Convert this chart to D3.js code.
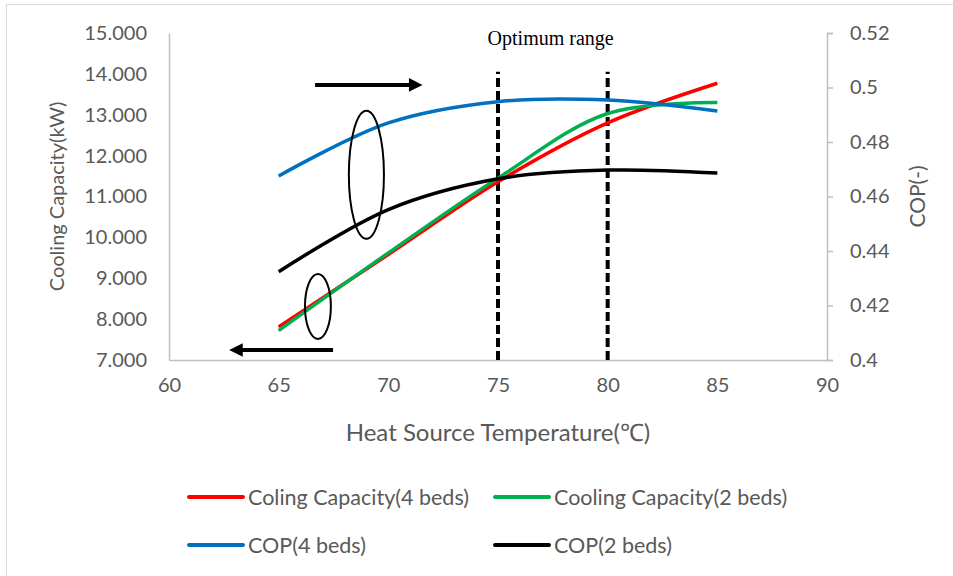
<!DOCTYPE html>
<html lang="en">
<head>
  <meta charset="UTF-8">
  <title>Cooling capacity and COP vs heat source temperature</title>
  <script src="https://d3js.org/d3.v7.min.js"></script>
  <style>
    body { margin: 0; background: #fff; }
    text { font-family: Lato, "Open Sans", sans-serif; fill: #595959; }
  </style>
</head>
<body>
  <svg id="chart" width="953" height="576"></svg>
  <script>
    // data
    const temps = [65, 70, 75, 80, 85];
    const capacity4 = [7.81, 9.58, 11.36, 12.80, 13.77];
    const capacity2 = [7.72, 9.62, 11.45, 13.03, 13.30];
    const cop4 = [0.4675, 0.4870, 0.4948, 0.4954, 0.4914];
    const cop2 = [0.4324, 0.4552, 0.4665, 0.4697, 0.4686];

    const xTicks = [60, 65, 70, 75, 80, 85, 90];
    const leftTicks = [7, 8, 9, 10, 11, 12, 13, 14, 15];
    const rightTicks = [0.40, 0.42, 0.44, 0.46, 0.48, 0.50, 0.52];
    const optimum = [75, 80];

    const series = [
      { name: "Coling Capacity(4 beds)", values: capacity4, axis: "left", color: "#ff0000" },
      { name: "Cooling Capacity(2 beds)", values: capacity2, axis: "left", color: "#00b050" },
      { name: "COP(4 beds)", values: cop4, axis: "right", color: "#0070c0" },
      { name: "COP(2 beds)", values: cop2, axis: "right", color: "#000000" }
    ];

    const svg = d3.select("#chart");
    const margin = { left: 169, right: 126, top: 33, bottom: 216 };
    const W = 953, H = 576;

    const x = d3.scaleLinear().domain([60, 90]).range([margin.left, W - margin.right]);
    const yL = d3.scaleLinear().domain([7, 15]).range([H - margin.bottom, margin.top]);
    const yR = d3.scaleLinear().domain([0.4, 0.52]).range([H - margin.bottom, margin.top]);

    // outer chart border
    svg.append("rect")
      .attr("x", 6.5).attr("y", 4.5)
      .attr("width", 960).attr("height", 600)
      .attr("fill", "none").attr("stroke", "#d9d9d9");

    const axisColor = "#bfbfbf";

    // x axis
    const gx = svg.append("g")
      .attr("transform", `translate(0,${yL(7)})`)
      .call(d3.axisBottom(x).tickValues(xTicks).tickSize(0).tickPadding(18));
    gx.select(".domain").attr("stroke", axisColor).attr("stroke-width", 1.5);
    gx.selectAll("text").style("font-size", "20px").attr("fill", "#595959");

    // left axis
    const gl = svg.append("g")
      .attr("transform", `translate(${x(60)},0)`)
      .call(d3.axisLeft(yL).tickValues(leftTicks).tickSize(0).tickPadding(22).tickFormat(d3.format(".3f")));
    gl.select(".domain").attr("stroke", axisColor).attr("stroke-width", 1.5);
    gl.selectAll("text").style("font-size", "20px").attr("fill", "#595959");

    // right axis
    const gr = svg.append("g")
      .attr("transform", `translate(${x(90)},0)`)
      .call(d3.axisRight(yR).tickValues(rightTicks).tickSize(6).tickPadding(17)
        .tickFormat(d => String(+d.toFixed(2))));
    gr.select(".domain").attr("stroke", axisColor).attr("stroke-width", 1.5);
    gr.selectAll(".tick line").attr("stroke", axisColor).attr("stroke-width", 1.5);
    gr.selectAll("text").style("font-size", "20px").attr("fill", "#595959");

    // axis titles
    svg.append("text")
      .attr("transform", `translate(57,${(yL(7) + yL(15)) / 2}) rotate(-90)`)
      .attr("text-anchor", "middle").attr("dy", "0.35em")
      .style("font-size", "20px")
      .text("Cooling Capacity(kW)");

    svg.append("text")
      .attr("transform", `translate(918,${(yL(7) + yL(15)) / 2}) rotate(-90)`)
      .attr("text-anchor", "middle").attr("dy", "0.35em")
      .style("font-size", "21px")
      .text("COP(-)");

    const xt = svg.append("text")
      .attr("x", (x(60) + x(90)) / 2).attr("y", 441)
      .attr("text-anchor", "middle")
      .style("font-size", "24px");
    xt.append("tspan").text("Heat Source Temperature(");
    xt.append("tspan").style("font-family", "'Liberation Serif', serif").text("\u2103");
    xt.append("tspan").text(")");

    // optimum range dashed lines
    svg.append("g").selectAll("line")
      .data(optimum)
      .join("line")
        .attr("x1", d => x(d)).attr("x2", d => x(d))
        .attr("y1", yL(7)).attr("y2", yL(14.05))
        .attr("stroke", "#000").attr("stroke-width", 4)
        .attr("stroke-dasharray", "9,4");

    svg.append("text")
      .attr("x", x(77.4)).attr("y", 45)
      .attr("text-anchor", "middle")
      .style("font-family", "'Liberation Serif', 'Times New Roman', serif")
      .style("font-size", "20px")
      .style("fill", "#000")
      .text("Optimum range");

    // series lines
    const line = (yScale) => d3.line()
      .x((d, i) => x(temps[i]))
      .y(d => yScale(d))
      .curve(d3.curveCatmullRom.alpha(0.5));

    svg.append("g").selectAll("path")
      .data(series)
      .join("path")
        .attr("fill", "none")
        .attr("stroke", d => d.color)
        .attr("stroke-width", 3.5)
        .attr("d", d => line(d.axis === "left" ? yL : yR)(d.values));

    // annotations (positioned in data units)
    const ellipses = [
      { cx: 69.0, cy: 11.53, rx: 0.8, ry: 1.566 },
      { cx: 66.79, cy: 8.31, rx: 0.59, ry: 0.795 }
    ];
    svg.append("g").selectAll("ellipse")
      .data(ellipses)
      .join("ellipse")
        .attr("cx", d => x(d.cx)).attr("cy", d => yL(d.cy))
        .attr("rx", d => x(60 + d.rx) - x(60))
        .attr("ry", d => yL(7) - yL(7 + d.ry))
        .attr("fill", "none").attr("stroke", "#000").attr("stroke-width", 2);

    svg.append("defs").append("marker")
      .attr("id", "head")
      .attr("viewBox", "0 0 10 10")
      .attr("refX", 1).attr("refY", 5)
      .attr("markerWidth", 3.8).attr("markerHeight", 3.4)
      .attr("markerUnits", "strokeWidth")
      .attr("orient", "auto")
      .append("path").attr("d", "M0,0 L10,5 L0,10 Z").attr("fill", "#000");

    const arrows = [
      { x1: 66.66, x2: 71.0, y: 13.73 },
      { x1: 67.48, x2: 63.3, y: 7.245 }
    ];
    svg.append("g").selectAll("line")
      .data(arrows)
      .join("line")
        .attr("x1", d => x(d.x1)).attr("x2", d => x(d.x2))
        .attr("y1", d => yL(d.y)).attr("y2", d => yL(d.y))
        .attr("stroke", "#000").attr("stroke-width", 4)
        .attr("marker-end", "url(#head)");

    // legend
    const legendPos = [
      { x: 189, y: 497 }, { x: 495, y: 497 },
      { x: 189, y: 545 }, { x: 495, y: 545 }
    ];
    const lg = svg.append("g").selectAll("g")
      .data(series)
      .join("g")
        .attr("transform", (d, i) => `translate(${legendPos[i].x},${legendPos[i].y})`);
    lg.append("line")
      .attr("x1", 0).attr("x2", 54)
      .attr("stroke", d => d.color).attr("stroke-width", 4)
      .attr("stroke-linecap", "round");
    lg.append("text")
      .attr("x", 59).attr("dy", "0.35em")
      .style("font-size", "21.5px")
      .text(d => d.name);
  </script>
</body>
</html>
